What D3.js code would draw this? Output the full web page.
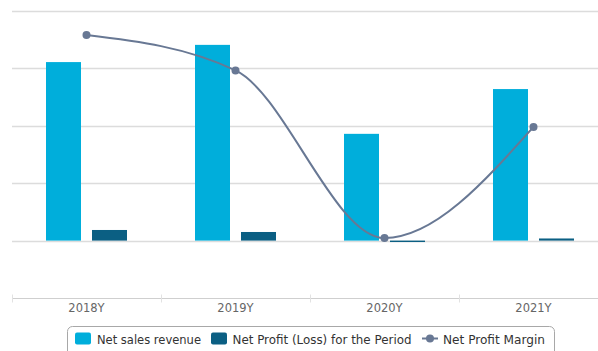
<!DOCTYPE html>
<html>
<head>
<meta charset="utf-8">
<script src="https://cdn.jsdelivr.net/npm/d3@7"></script>
<style>
  body { margin: 0; background: #fff; }
  svg { display: block; font-family: "DejaVu Sans", Verdana, sans-serif; }
</style>
</head>
<body>
<svg width="598" height="351"></svg>
<script>
// data (left axis unlabeled, arbitrary units)
const years = ["2018Y", "2019Y", "2020Y", "2021Y"];
const netSales = [311, 341, 186, 264];
const netProfit = [18.5, 15, -2.5, 3.7];
const profitMargin = [7.16, 5.93, 0.09, 3.96];
const seriesNames = ["Net sales revenue", "Net Profit (Loss) for the Period", "Net Profit Margin"];
const leftTicks = [0, 100, 200, 300, 400];

const svg = d3.select("svg");

const x = d3.scaleBand().domain(years).range([12, 608]);
const x1 = d3.scaleBand().domain([0, 1]).range([-40.5, 40.5]).paddingInner(11 / 46);
const y = d3.scaleLinear().domain([-100, 400]).range([298, 11]);
const y2 = d3.scaleLinear().domain([-2, 8]).range([298, 11]);

// grid
svg.append("g")
  .selectAll("line")
  .data(leftTicks).enter()
  .append("line")
    .attr("x1", 12).attr("x2", 598)
    .attr("y1", d => Math.round(y(d)) + 0.5)
    .attr("y2", d => Math.round(y(d)) + 0.5)
    .attr("stroke", "#dcdcdc")
    .attr("stroke-width", 1.5);

// x axis
const xAxis = svg.append("g")
  .attr("transform", "translate(0," + 298.5 + ")");
xAxis.append("line")
  .attr("x1", 12).attr("x2", 598)
  .attr("stroke", "#cfcfcf");
xAxis.selectAll("line.tick")
  .data(years).enter()
  .append("line")
    .attr("class", "tick")
    .attr("x1", d => Math.round(x(d)) + 0.5)
    .attr("x2", d => Math.round(x(d)) + 0.5)
    .attr("y1", -4).attr("y2", 4)
    .attr("stroke", "#e2e2e2");
xAxis.selectAll("text")
  .data(years).enter()
  .append("text")
    .attr("x", d => x(d) + x.bandwidth() / 2)
    .attr("y", 13.5)
    .attr("text-anchor", "middle")
    .style("font-size", "11.5px")
    .style("fill", "#666")
    .text(d => d);

// bars
const colors = ["#00aedb", "#0b5f83", "#687894"];
[netSales, netProfit].forEach(function (vals, s) {
  svg.append("g")
    .selectAll("rect")
    .data(vals).enter()
    .append("rect")
      .attr("x", (d, i) => x(years[i]) + x.bandwidth() / 2 + x1(s))
      .attr("width", x1.bandwidth())
      .attr("y", d => y(Math.max(0, d)))
      .attr("height", d => Math.abs(y(d) - y(0)))
      .attr("fill", colors[s]);
});

// margin line
const line = d3.line()
  .x((d, i) => x(years[i]) + x.bandwidth() / 2)
  .y(d => y2(d))
  .curve(d3.curveMonotoneX);

svg.append("path")
  .attr("d", line(profitMargin))
  .attr("fill", "none")
  .attr("stroke", colors[2])
  .attr("stroke-width", 2);

svg.append("g")
  .selectAll("circle")
  .data(profitMargin).enter()
  .append("circle")
    .attr("cx", (d, i) => x(years[i]) + x.bandwidth() / 2)
    .attr("cy", d => y2(d))
    .attr("r", 4)
    .attr("fill", colors[2]);

// legend
const legend = svg.append("g");
legend.append("rect")
  .attr("x", 67.5).attr("y", 326.5)
  .attr("width", 487).attr("height", 40)
  .attr("rx", 5)
  .attr("fill", "#fff")
  .attr("stroke", "#a8a8a8");

const itemX = [75, 211, 422];
const textX = [97, 232.5, 443];
const textW = [104, 179, 102];
seriesNames.forEach(function (name, i) {
  if (i < 2) {
    legend.append("rect")
      .attr("x", itemX[i]).attr("y", 332.5)
      .attr("width", 16).attr("height", 12)
      .attr("rx", 2)
      .attr("fill", colors[i]);
  } else {
    legend.append("line")
      .attr("x1", itemX[i]).attr("x2", itemX[i] + 16)
      .attr("y1", 338.5).attr("y2", 338.5)
      .attr("stroke", colors[i]).attr("stroke-width", 2);
    legend.append("circle")
      .attr("cx", itemX[i] + 8).attr("cy", 338.5)
      .attr("r", 4).attr("fill", colors[i]);
  }
  legend.append("text")
    .attr("x", textX[i]).attr("y", 344)
    .attr("textLength", textW[i])
    .attr("lengthAdjust", "spacingAndGlyphs")
    .style("font-size", "12.5px")
    .style("fill", "#333")
    .text(name);
});
</script>
</body>
</html>
